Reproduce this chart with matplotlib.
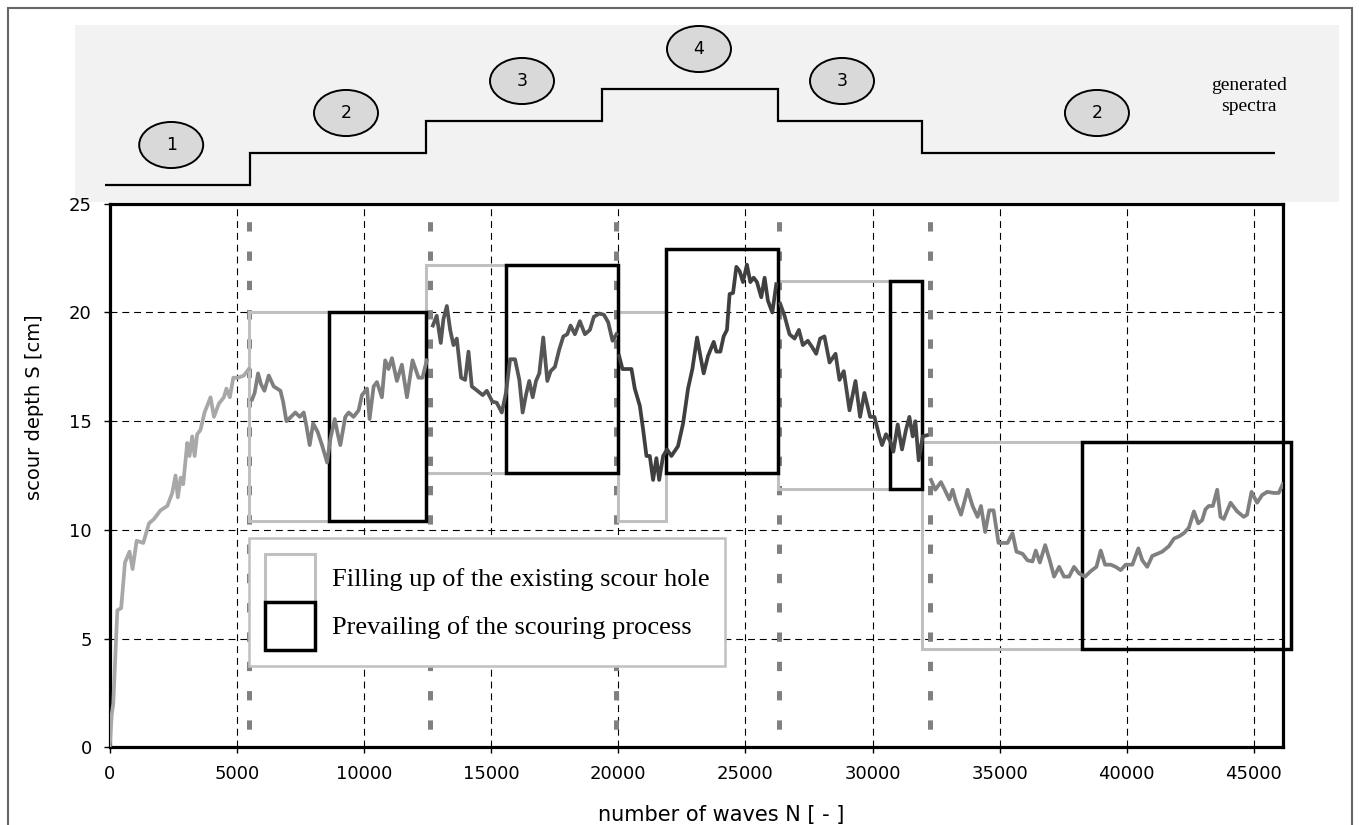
import matplotlib
matplotlib.use('Agg')
import matplotlib.pyplot as plt
from matplotlib.patches import Rectangle, Ellipse, Patch

plt.rcParams['font.family'] = ['DejaVu Sans']
plt.rcParams['lines.scale_dashes'] = False

W, H = 1359, 825

# scour depth S [cm] against number of waves N, one pair per generated spectrum
n_run1 = [0, 80, 140, 300, 450, 530, 600, 780, 900, 1060, 1320, 1545, 1740, 2000, 2265,
          2460, 2590, 2680, 2790, 2890, 3050, 3140, 3245, 3340, 3440, 3570, 3730, 3965,
          4100, 4290, 4490, 4590, 4725, 4860, 5040, 5275, 5470]
s_run1 = [0, 1.5, 2.0, 6.3, 6.4, 7.5, 8.5, 9.0, 8.2, 9.5, 9.4, 10.3, 10.5, 10.9, 11.1,
          11.7, 12.5, 11.5, 12.4, 12.1, 14.0, 13.4, 14.3, 13.4, 14.4, 14.6, 15.4, 16.1,
          15.2, 15.8, 16.1, 16.5, 16.1, 17.0, 17.0, 17.1, 17.4]

n_run2 = [5600, 5700, 5835, 5950, 6085, 6255, 6450, 6715, 6820, 6950, 7130, 7300, 7475,
          7630, 7735, 7865, 8000, 8180, 8350, 8550, 8680, 8850, 8970, 9070, 9265, 9400,
          9590, 9790, 9920, 10120, 10220, 10380, 10510, 10705, 10835, 10965, 11100, 11295,
          11490, 11690, 11910, 12145, 12300, 12470]
s_run2 = [16.0, 16.3, 17.2, 16.7, 16.4, 17.1, 16.6, 16.4, 15.9, 15.0, 15.2, 15.4, 15.2,
          15.4, 14.8, 13.9, 14.9, 14.5, 13.9, 13.1, 14.2, 15.1, 14.4, 13.9, 15.2, 15.4,
          15.2, 15.5, 16.2, 16.5, 15.1, 16.6, 16.8, 16.1, 17.8, 17.4, 17.9, 16.85,
          17.6, 16.1, 17.8, 17.0, 17.0, 17.8]

n_run3 = [12710, 12860, 13020, 13125, 13260, 13390, 13520, 13650, 13820, 13980, 14110,
          14240, 14460, 14670, 14830, 15050, 15220, 15420, 15585, 15745, 15940, 16110,
          16240, 16370, 16500, 16635, 16765, 16895, 17050, 17210, 17340, 17510, 17680,
          17840, 17995, 18125, 18295, 18490, 18690, 18885, 19040, 19250, 19435, 19605,
          19775, 19930]
s_run3 = [19.4, 19.85, 18.6, 19.7, 20.3, 19.2, 18.5, 18.8, 17.0, 16.9, 18.2,
          16.6, 16.4, 16.2, 16.4, 15.9, 15.85, 15.4, 16.3, 17.85, 17.85, 16.9,
          15.4, 16.2, 16.85, 16.1, 16.85, 17.2, 18.85, 16.85, 17.3, 17.5, 18.3,
          18.9, 19.0, 19.4, 19.0, 19.6, 19.0, 19.2, 19.8, 19.95, 19.9, 19.55,
          18.7, 19.0]

n_run4 = [20035, 20165, 20325, 20520, 20650, 20850, 20980, 21110, 21240, 21370, 21500,
          21610, 21765, 21920, 22090, 22350, 22550, 22745, 22915, 23100, 23230, 23360,
          23530, 23755, 23860, 24015, 24145, 24275, 24380, 24515, 24645, 24775, 24905,
          25060, 25195, 25325, 25455, 25625, 25755, 25885, 26060, 26215]
s_run4 = [18.0, 17.4, 17.4, 17.4, 16.5, 15.7, 14.6, 13.4, 13.4, 12.3, 13.3,
          12.3, 13.4, 13.7, 13.4, 13.85, 14.9, 16.5, 17.4, 18.85, 18.0, 17.2,
          18.0, 18.65, 18.2, 18.2, 18.9, 19.2, 20.85, 20.9, 22.1, 21.9, 21.4,
          22.2, 21.4, 21.6, 21.4, 20.7, 21.6, 20.55, 20.0, 21.3]

n_run5 = [26370, 26540, 26735, 26935, 27105, 27260, 27455, 27630, 27785, 27940, 28110,
          28310, 28545, 28700, 28870, 29095, 29330, 29510, 29680, 29905, 30075, 30270,
          30375, 30530, 30690, 30820, 30990, 31160, 31315, 31450, 31580, 31685, 31815,
          31975, 32130]
s_run5 = [20.4, 19.85, 19.0, 18.8, 19.2, 18.5, 18.7, 18.4, 18.1, 18.8, 18.9,
          17.7, 18.1, 16.9, 17.3, 15.5, 16.85, 15.2, 16.3, 15.2, 15.2, 14.3,
          13.9, 14.4, 14.1, 13.6, 14.85, 13.7, 14.6, 15.2, 14.3, 15.0, 13.2,
          14.3, 14.35]

n_run6 = [32300, 32470, 32690, 32860, 33020, 33150, 33280, 33480, 33740, 33935, 34130,
          34265, 34430, 34590, 34760, 34955, 35140, 35310, 35505, 35660, 35900, 36095,
          36290, 36420, 36580, 36790, 36970, 37140, 37340, 37530, 37730, 37925, 38120,
          38360, 38580, 38805, 38975, 39145, 39370, 39565, 39760, 39955, 40220, 40455,
          40610, 40805, 41000, 41200, 41395, 41655, 41855, 42050, 42245, 42440, 42640,
          42810, 42965, 43095, 43225, 43385, 43555, 43685, 43815, 44080, 44340, 44600,
          44730, 44905, 45125, 45320, 45520, 45780, 45975, 46135]
s_run6 = [12.3, 11.85, 12.2, 11.8, 11.4, 11.85, 11.3, 10.7, 11.85, 11.1, 10.6,
          11.1, 9.9, 10.9, 10.9, 9.4, 9.4, 9.4, 9.85, 9.0, 8.9, 8.6,
          8.55, 9.05, 8.5, 9.3, 8.6, 7.85, 8.3, 7.85, 7.85, 8.3, 8.0,
          7.85, 8.1, 8.3, 9.05, 8.4, 8.4, 8.3, 8.15, 8.4, 8.4, 9.15,
          8.6, 8.3, 8.8, 8.9, 9.0, 9.25, 9.6, 9.7, 9.85, 10.1, 10.85,
          10.3, 10.45, 10.95, 11.1, 11.1, 11.85, 10.6, 10.5, 11.25, 10.85, 10.6,
          10.7, 11.75, 11.25, 11.6, 11.75, 11.7, 11.7, 12.1]

run_n = [n_run1, n_run2, n_run3, n_run4, n_run5, n_run6]
run_s = [s_run1, s_run2, s_run3, s_run4, s_run5, s_run6]
run_colors = ['#a8a8a8', '#7f7f7f', '#555555', '#3f3f3f', '#474747', '#808080']

# generated spectra (top panel)
spectrum_edges = [-185, 5518, 12439, 19360, 26282, 31945, 45827]
spectrum_level = [1, 2, 3, 4, 3, 2]
spectrum_label_n = [2418, 9293, 16215, 23175, 28800, 38826]

# spectrum changes in the test
change_n = [5490, 12596, 19900, 26321, 32260]

# boxes: filling up of the existing scour hole
fill_x0 = [5490, 12439, 19978, 26296, 31933]
fill_x1 = [8636, 15573, 21878, 30687, 38226]
fill_lo = [10.42, 12.6, 10.42, 11.87, 4.51]
fill_hi = [20.0, 22.18, 20.0, 21.46, 14.06]

# boxes: prevailing of the scouring process
scour_x0 = [8636, 15573, 21878, 30687, 38226]
scour_x1 = [12439, 19978, 26296, 31958, 46445]
scour_lo = [10.42, 12.6, 12.62, 11.87, 4.51]
scour_hi = [20.0, 22.18, 22.91, 21.46, 14.06]

fig = plt.figure(figsize=(W / 100, H / 100), dpi=100)

# grey background of the spectra panel and outer frame
fig.add_artist(Rectangle((75 / W, 1 - 202 / H), 1264 / W, 177 / H, transform=fig.transFigure,
                         facecolor='#f2f2f2', edgecolor='none', zorder=-1))
fig.add_artist(Rectangle((8 / W, -0.02), 1344 / W, (H - 8) / H + 0.02, transform=fig.transFigure,
                         facecolor='none', edgecolor='#666666', lw=1.5, zorder=-1))

ax_left, ax_w = 109.7 / W, 1173.6 / W
ax = fig.add_axes([ax_left, 1 - 747.3 / H, ax_w, 543.5 / H])
top = fig.add_axes([ax_left, 1 - 202 / H, ax_w, 177 / H])

# top panel
top.set_xlim(0, 46155)
top.set_ylim(0.469, 6.0)
top.axis('off')
top.stairs(spectrum_level, spectrum_edges, baseline=None, color='black', lw=1.6, clip_on=False)
for xc, lv in zip(spectrum_label_n, spectrum_level):
    top.add_patch(Ellipse((xc, lv + 1.25), width=2517, height=1.44, facecolor='#d9d9d9',
                          edgecolor='black', lw=1.4, clip_on=False))
    top.text(xc, lv + 1.25, str(lv), ha='center', va='center', fontsize=12.5)
top.text(44815, 3.78, 'generated\nspectra', ha='center', va='center', fontsize=14,
         family='Liberation Serif', linespacing=1.3)

# main chart
ax.set_xlim(0, 46155)
ax.set_ylim(0, 25)
ax.set_xticks(range(0, 45001, 5000))
ax.set_yticks(range(0, 26, 5))
ax.set_axisbelow(True)
ax.grid(True, color='black', lw=0.8, linestyle=(0, (5, 3.5)))
ax.tick_params(labelsize=13, length=4, width=1, pad=9, direction='out')
for sp in ax.spines.values():
    sp.set_linewidth(2.3)
    sp.set_color('black')

for xv in change_n:
    ax.plot([xv, xv], [25, 0], color='#808080', lw=3.6, linestyle=(8.35, (6.7, 14.4)),
            zorder=1.5)

for x0, x1, lo, hi in zip(fill_x0, fill_x1, fill_lo, fill_hi):
    ax.add_patch(Rectangle((x0, lo), x1 - x0, hi - lo, facecolor='none', edgecolor='#c0c0c0',
                           lw=2.2, zorder=3, clip_on=False))
for x0, x1, lo, hi in zip(scour_x0, scour_x1, scour_lo, scour_hi):
    ax.add_patch(Rectangle((x0, lo), x1 - x0, hi - lo, facecolor='none', edgecolor='black',
                           lw=2.5, zorder=4, clip_on=False))

for n, s, c in zip(run_n, run_s, run_colors):
    ax.plot(n, s, color=c, lw=2.7, zorder=5, solid_joinstyle='round')

ax.set_xlabel('number of waves N [ - ]', fontsize=15, va='center')
ax.xaxis.set_label_coords(0.521, -0.1246)
ax.set_ylabel('scour depth S [cm]', fontsize=14, va='center')
ax.yaxis.set_label_coords(-0.0637, 0.625)

handles = [Patch(facecolor='white', edgecolor='#c0c0c0', lw=2.2),
           Patch(facecolor='white', edgecolor='black', lw=2.5)]
leg = ax.legend(handles, ['Filling up of the existing scour hole',
                          'Prevailing of the scouring process'],
                loc='upper left', bbox_to_anchor=(0.1187, 0.385), borderaxespad=0,
                prop={'family': 'Liberation Serif', 'size': 19}, handlelength=1.9,
                handleheight=2.42, handletextpad=0.64, borderpad=0.6, labelspacing=0,
                fancybox=False, edgecolor='#c0c0c0', framealpha=1)
leg.get_frame().set_linewidth(1.8)
leg.set_zorder(10)

fig.savefig('out.png', dpi=100)
